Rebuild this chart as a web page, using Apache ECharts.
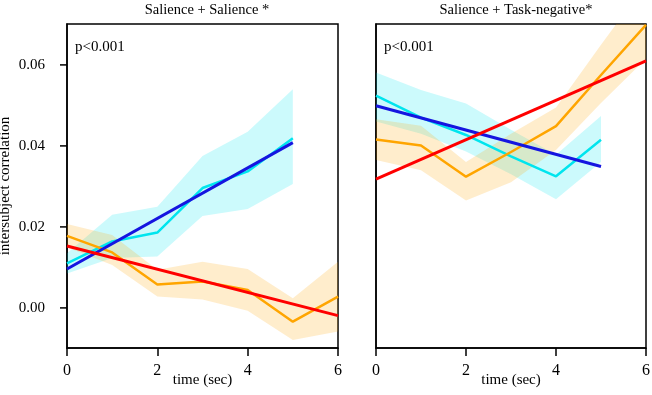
<!DOCTYPE html>
<html>
<head>
<meta charset="utf-8">
<script src="https://cdn.jsdelivr.net/npm/echarts@6/dist/echarts.min.js"></script>
<style>
html,body{margin:0;padding:0;background:#fff;}
#chart{width:652px;height:395px;}
</style>
</head>
<body>
<div id="chart"></div>
<script>
// time points (sec)
var timeSec = [0, 1, 2, 3, 4, 5, 6];
var yTicks = [0, 0.02, 0.04, 0.06];
var yMin = -0.0099, yMax = 0.0701;
var panelTitles = ['Salience + Salience *', 'Salience + Task-negative*'];
var pText = 'p<0.001';

// Salience + Salience
var ssCyan     = [0.0110, 0.0164, 0.0186, 0.0296, 0.0337, 0.0419];
var ssCyanLo   = [0.0085, 0.0123, 0.0127, 0.0227, 0.0244, 0.0306];
var ssCyanHi   = [0.0135, 0.0230, 0.0250, 0.0375, 0.0435, 0.0540];
var ssOrange   = [0.0178, 0.0137, 0.0058, 0.0065, 0.0044, -0.0034, 0.0028];
var ssOrangeLo = [0.0150, 0.0106, 0.0028, 0.0021, -0.0007, -0.0079, -0.0058];
var ssOrangeHi = [0.0207, 0.0180, 0.0094, 0.0114, 0.0096, 0.0024, 0.0114];
var ssBlueFit  = [[0, 0.0096], [5, 0.0408]];
var ssRedFit   = [[0, 0.0153], [6, -0.0019]];

// Salience + Task-negative
var stCyan     = [0.0524, 0.0470, 0.0427, 0.0374, 0.0325, 0.0415];
var stCyanLo   = [0.0460, 0.0430, 0.0386, 0.0330, 0.0268, 0.0360];
var stCyanHi   = [0.0581, 0.0538, 0.0505, 0.0440, 0.0378, 0.0474];
var stOrange   = [0.0416, 0.0401, 0.0324, 0.0385, 0.0449, 0.0575, 0.0699];
var stOrangeLo = [0.0365, 0.0340, 0.0265, 0.0310, 0.0390, 0.0506, 0.0615];
var stOrangeHi = [0.0466, 0.0450, 0.0360, 0.0430, 0.0495, 0.0650, 0.0800];
var stBlueFit  = [[0, 0.0499], [5, 0.0349]];
var stRedFit   = [[0, 0.0318], [6, 0.0610]];

var serif = 'Liberation Serif';
var chart = echarts.init(document.getElementById('chart'));

function pairs(vals) {
    return vals.map(function (v, i) { return [timeSec[i], v]; });
}

function band(gi, lo, hi, color) {
    var n = lo.length;
    return {
        type: 'custom', xAxisIndex: gi, yAxisIndex: gi, silent: true, clip: true, z: 1,
        data: lo.map(function (v, i) { return [timeSec[i], v, hi[i]]; }),
        encode: {x: 0, y: [1, 2]},
        renderItem: function (params, api) {
            if (params.dataIndex !== 0) return;
            var pts = [];
            for (var i = 0; i < n; i++) pts.push(api.coord([timeSec[i], hi[i]]));
            for (var j = n - 1; j >= 0; j--) pts.push(api.coord([timeSec[j], lo[j]]));
            var cs = params.coordSys;
            return {
                type: 'polygon', shape: {points: pts}, style: {fill: color},
                clipPath: {type: 'rect', shape: {x: cs.x, y: cs.y, width: cs.width, height: cs.height}}
            };
        }
    };
}

function line(gi, data, color, w, z) {
    return {
        type: 'line', xAxisIndex: gi, yAxisIndex: gi, data: data, showSymbol: false,
        silent: true, animation: false, clip: true, z: z,
        lineStyle: {color: color, width: w}
    };
}

var grids = [
    {left: 67, top: 24, width: 271, height: 324, show: true, borderColor: '#000', borderWidth: 1.5,
        outerBoundsMode: 'none', containLabel: false},
    {left: 376, top: 24, width: 270, height: 324, show: true, borderColor: '#000', borderWidth: 1.5,
        outerBoundsMode: 'none', containLabel: false}
];

var xAxes = [0, 1].map(function (gi) {
    return {
        gridIndex: gi, type: 'value', min: 0, max: 6, interval: 2,
        name: 'time (sec)', nameLocation: 'middle', nameGap: 25, nameMoveOverlap: false,
        nameTextStyle: {fontFamily: serif, fontSize: 15, color: '#000'},
        axisLine: {show: true, onZero: false, lineStyle: {color: '#000', width: 1.5}},
        axisTick: {show: true, inside: false, length: 8, lineStyle: {color: '#000', width: 1.5}},
        axisLabel: {fontFamily: serif, fontSize: 16, color: '#000', margin: 15},
        splitLine: {show: false}
    };
});

var yAxes = [0, 1].map(function (gi) {
    return {
        gridIndex: gi, type: 'value', min: yMin, max: yMax, splitNumber: 5,
        name: gi === 0 ? 'intersubject correlation' : '',
        nameLocation: 'middle', nameGap: 54, nameMoveOverlap: false,
        nameTextStyle: {fontFamily: serif, fontSize: 15, color: '#000'},
        axisLine: {show: true, onZero: false, lineStyle: {color: '#000', width: 1.5}},
        axisTick: {show: false},
        axisLabel: {show: gi === 0, showMinLabel: false, showMaxLabel: false,
            fontFamily: serif, fontSize: 15, color: '#000', margin: 22,
            formatter: function (v) { return Math.abs(v).toFixed(2) === '0.00' ? '0.00' : v.toFixed(2); }},
        splitLine: {show: false}
    };
});

var cyanBand = 'rgba(0,230,240,0.2)';
var orangeBand = 'rgba(255,165,0,0.2)';

var labels = [
    {type: 'text', left: 75, top: 40, style: {text: pText, font: '15px "Liberation Serif"', fill: '#000'}},
    {type: 'text', left: 384, top: 40, style: {text: pText, font: '15px "Liberation Serif"', fill: '#000'}}
];

var option = {
    animation: false,
    title: [
        {text: panelTitles[0], left: 202, top: -2, textAlign: 'center',
            textStyle: {fontFamily: serif, fontSize: 14.5, fontWeight: 'normal', color: '#000'}},
        {text: panelTitles[1], left: 511, top: -2, textAlign: 'center',
            textStyle: {fontFamily: serif, fontSize: 14.5, fontWeight: 'normal', color: '#000'}}
    ],
    graphic: labels,
    grid: grids,
    xAxis: xAxes,
    yAxis: yAxes,
    series: [
        band(0, ssCyanLo, ssCyanHi, cyanBand),
        band(0, ssOrangeLo, ssOrangeHi, orangeBand),
        line(0, pairs(ssCyan), '#00e5ee', 2.5, 3),
        line(0, pairs(ssOrange), '#ffa500', 2.5, 3),
        line(0, ssBlueFit, '#1515e0', 3, 4),
        line(0, ssRedFit, '#ff0000', 3, 4),

        band(1, stCyanLo, stCyanHi, cyanBand),
        band(1, stOrangeLo, stOrangeHi, orangeBand),
        line(1, pairs(stCyan), '#00e5ee', 2.5, 3),
        line(1, pairs(stOrange), '#ffa500', 2.5, 3),
        line(1, stBlueFit, '#1515e0', 3, 4),
        line(1, stRedFit, '#ff0000', 3, 4)
    ]
};
chart.setOption(option);

// left-axis tick marks at the labelled values, placed through the axis scale
var tickMarks = [];
try {
    yTicks.forEach(function (v) {
        var p = chart.convertToPixel({xAxisIndex: 0, yAxisIndex: 0}, [0, v]);
        if (!p) return;
        tickMarks.push({type: 'line', silent: true, z: 100,
            shape: {x1: p[0] - 7, y1: p[1], x2: p[0], y2: p[1]},
            style: {stroke: '#000', lineWidth: 1.5}});
    });
} catch (e) {
    console.log(e);
}
chart.setOption({graphic: labels.concat(tickMarks)});
</script>
</body>
</html>
